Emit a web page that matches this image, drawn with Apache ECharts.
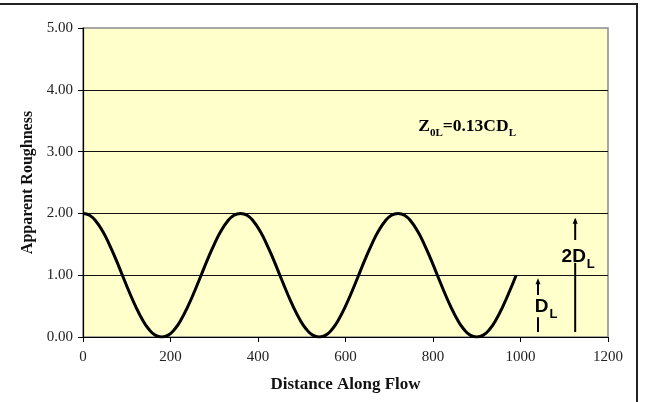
<!DOCTYPE html>
<html>
<head>
<meta charset="utf-8">
<script src="https://cdn.jsdelivr.net/npm/echarts@6/dist/echarts.min.js"></script>
<style>html,body{margin:0;padding:0;background:#fff}#c{width:645px;height:402px}</style>
</head>
<body>
<div id="c"></div>
<script>
// Distance along flow (x) and apparent roughness (y)
const distance = [0,15,30,45,60,75,90,105,120,135,150,165,180,195,210,225,240,255,270,285,300,315,330,345,
  360,375,390,405,420,435,450,465,480,495,510,525,540,555,570,585,600,615,630,645,660,675,690,705,
  720,735,750,765,780,795,810,825,840,855,870,885,900,915,930,945,960,975,990];
const roughness = [2.00,1.97,1.87,1.71,1.50,1.26,1.00,0.74,0.50,0.29,0.13,0.03,0.00,0.03,0.13,0.29,0.50,0.74,1.00,1.26,1.50,1.71,1.87,1.97,
  2.00,1.97,1.87,1.71,1.50,1.26,1.00,0.74,0.50,0.29,0.13,0.03,0.00,0.03,0.13,0.29,0.50,0.74,1.00,1.26,1.50,1.71,1.87,1.97,
  2.00,1.97,1.87,1.71,1.50,1.26,1.00,0.74,0.50,0.29,0.13,0.03,0.00,0.03,0.13,0.29,0.50,0.74,1.00];
const xTicks = [0,200,400,600,800,1000,1200];
const yTicks = [0,1,2,3,4,5];
const xTitle = 'Distance Along Flow';
const yTitle = 'Apparent Roughness';

const serif = '"Liberation Serif","Times New Roman",serif';
const sans = '"Liberation Sans",Arial,sans-serif';

const chart = echarts.init(document.getElementById('c'), null, {renderer:'canvas'});
chart.setOption({
  animation:false,
  backgroundColor:'#ffffff',
  grid:{left:83,right:37,top:28,bottom:65,show:true,backgroundColor:'#FFFFCC',borderColor:'#8a8a8a',borderWidth:1.5},
  xAxis:{type:'value',min:xTicks[0],max:xTicks[xTicks.length-1],interval:200,
    name:xTitle,nameLocation:'middle',nameGap:39,
    nameTextStyle:{fontFamily:serif,fontWeight:'bold',fontSize:17,color:'#111'},
    axisLine:{lineStyle:{color:'#000',width:1.2}},
    axisTick:{show:true,length:5,lineStyle:{color:'#000'}},
    axisLabel:{fontFamily:serif,fontSize:15,color:'#222',margin:13,formatter:v=>String(v)},
    splitLine:{show:false}},
  yAxis:{type:'value',min:yTicks[0],max:yTicks[yTicks.length-1],interval:1,
    name:yTitle,nameLocation:'middle',nameGap:46,nameRotate:90,
    nameTextStyle:{fontFamily:serif,fontWeight:'bold',fontSize:16,color:'#111'},
    axisLine:{show:true,lineStyle:{color:'#000',width:1.2}},
    axisTick:{show:true,length:5,lineStyle:{color:'#000'}},
    axisLabel:{fontFamily:serif,fontSize:15,color:'#222',margin:10,formatter:v=>v.toFixed(2)},
    splitLine:{show:true,showMinLine:false,showMaxLine:false,lineStyle:{color:'#111',width:1.2}}},
  series:[{type:'line',data:distance.map((d,i)=>[d,roughness[i]]),smooth:true,showSymbol:false,
    lineStyle:{color:'#000',width:3},z:5}]
});

function px(x,y){return chart.convertToPixel({gridIndex:0},[x,y]);}
function seg(x,y1,y2){const a=px(x,y1),b=px(x,y2);return {type:'line',shape:{x1:a[0],y1:a[1],x2:b[0],y2:b[1]},style:{stroke:'#000',lineWidth:2},z:10};}
function head(x,y){const p=px(x,y);return {type:'polygon',shape:{points:[[p[0],p[1]],[p[0]-2.5,p[1]+6],[p[0]+2.5,p[1]+6]]},style:{fill:'#000'},z:10};}
const rich={m:{fontFamily:sans,fontWeight:'bold',fontSize:19,color:'#000',verticalAlign:'bottom',lineHeight:20},
  s:{fontFamily:sans,fontWeight:'bold',fontSize:13,color:'#000',verticalAlign:'bottom',lineHeight:14,padding:[0,0,-4,1]}};
const richZ={m:{fontFamily:serif,fontWeight:'bold',fontSize:17.5,color:'#111',verticalAlign:'bottom',lineHeight:17},
  s:{fontFamily:serif,fontWeight:'bold',fontSize:11,color:'#111',verticalAlign:'bottom',lineHeight:11,padding:[0,0,-3,0]}};
const a2=px(1125,1.30), a1=px(1040,0.49), z=px(878,3.40);
chart.setOption({graphic:[
  seg(1125,0.08,1.20), seg(1125,1.57,1.90), head(1125,1.93),
  seg(1040,0.08,0.32), seg(1040,0.68,0.88), head(1040,0.95),
  {type:'text',x:a2[0]+3,y:a2[1],style:{text:'{m|2D}{s|L}',rich:rich,align:'center',verticalAlign:'middle'},z:11},
  {type:'text',x:a1[0]+8,y:a1[1],style:{text:'{m|D}{s|L}',rich:rich,align:'center',verticalAlign:'middle'},z:11},
  {type:'text',x:z[0],y:z[1],style:{text:'{m|Z}{s|0L}{m|=0.13CD}{s|L}',rich:richZ,align:'center',verticalAlign:'middle'},z:11},
  {type:'line',shape:{x1:0,y1:4,x2:638,y2:4},style:{stroke:'#222',lineWidth:2},z:20},
  {type:'line',shape:{x1:637,y1:4,x2:637,y2:402},style:{stroke:'#222',lineWidth:2},z:20}
]});
</script>
</body>
</html>
